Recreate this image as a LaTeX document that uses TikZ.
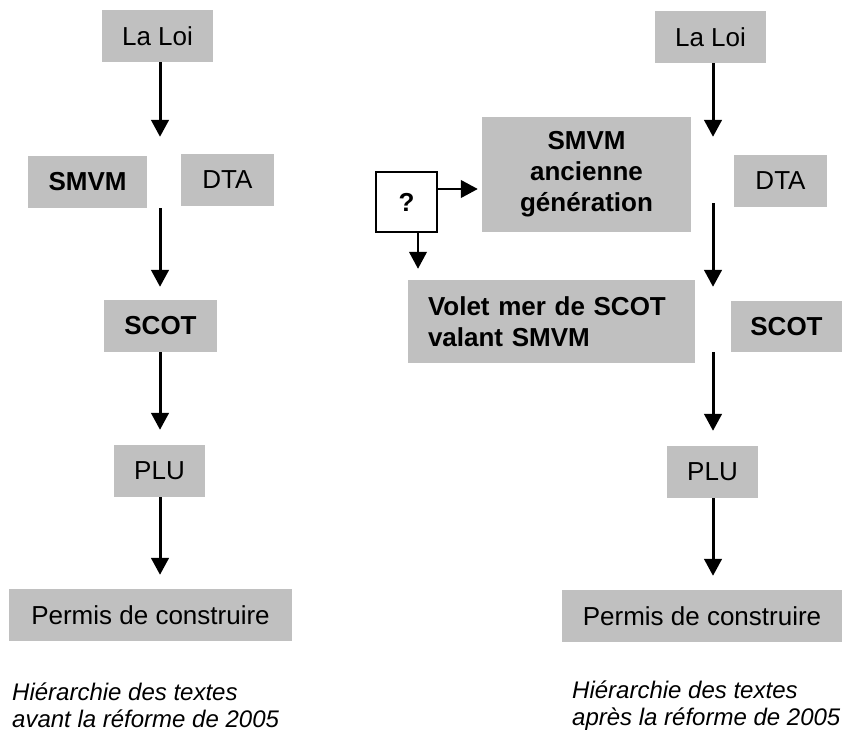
\documentclass[tikz,border=0pt]{standalone}
\usepackage{fontspec}
\setmainfont{Liberation Sans}
\usetikzlibrary{arrows.meta}
\definecolor{boxgray}{HTML}{C0C0C0}
\begin{document}
\begin{tikzpicture}[x=1pt,y=-1pt,
  box/.style={fill=boxgray, draw=none, inner sep=0pt, align=center,
    font=\fontsize{26}{31}\selectfont, minimum height=52pt},
  bbox/.style={box, font=\fontsize{26}{31}\selectfont\bfseries},
  qbox/.style={fill=white, draw=black, line width=2pt, inner sep=0pt,
    minimum width=61pt, minimum height=60pt, font=\fontsize{26}{31}\selectfont\bfseries},
  arr/.style={line width=3pt, -{Triangle[length=17pt,width=17.5pt]}},
  sarr/.style={line width=2.6pt, -{Triangle[length=17pt,width=17.5pt]}},
  caption/.style={anchor=base west, inner sep=0pt, align=left,
    font=\fontsize{24}{27}\selectfont\itshape}]
\useasboundingbox (0,0) rectangle (842,733);
% ---------- left column ----------
\coordinate (spL) at (160,0);
\node[box, minimum width=111pt] (loiL) at (157.5,36) {La Loi};
\node[bbox, minimum width=119pt] (smvmL) at (87.5,182) {SMVM};
\node[box, minimum width=93pt] (dtaL) at (227.5,180) {DTA};
\node[bbox, minimum width=113pt] (scotL) at (160.5,326) {SCOT};
\node[box, minimum width=91pt] (pluL) at (159.5,471) {PLU};
\node[box, minimum width=283pt] (permisL) at (150.5,615) {Permis de construire};
\draw[arr, shorten >=19pt] (spL |- loiL.south) -- (spL |- smvmL.north);
\draw[arr, shorten >=13pt] (spL |- smvmL.south) -- (spL |- scotL.north);
\draw[arr, shorten >=15pt] (spL |- scotL.south) -- (spL |- pluL.north);
\draw[arr, shorten >=14pt] (spL |- pluL.south) -- (spL |- permisL.north);
\node[caption] (capL) at (12,727) {Hiérarchie des textes\\avant la réforme de 2005};
% ---------- right column ----------
\coordinate (spR) at (713,0);
\node[box, minimum width=111pt] (loiR) at (710.5,37) {La Loi};
\node[bbox, minimum width=209pt, minimum height=115pt] (smvmR) at (586.5,174.5) {SMVM\\ancienne\\génération};
\node[box, minimum width=93pt] (dtaR) at (780.5,181) {DTA};
\node[qbox] (q) at (406.5,202) {?};
\node[bbox, minimum width=287pt, minimum height=83pt, align=left, text width=247pt] (volet) at (551.5,321.5) {Volet mer de SCOT\\valant SMVM};
\node[bbox, minimum width=111pt, minimum height=51pt] (scotR) at (786.5,326.5) {SCOT};
\node[box, minimum width=91pt] (pluR) at (712.5,472) {PLU};
\node[box, minimum width=280pt] (permisR) at (702,616) {Permis de construire};
\draw[arr, shorten >=18pt] (spR |- loiR.south) -- (spR |- dtaR.north);
\draw[arr, shorten >=14pt] ([yshift=4pt]spR |- dtaR.south) -- (spR |- scotR.north);
\draw[arr, shorten >=15pt] (spR |- scotR.south) -- (spR |- pluR.north);
\draw[arr, shorten >=14pt] (spR |- pluR.south) -- (spR |- permisR.north);
\coordinate (qr) at (437,189);
\coordinate (qd) at (418,232);
\draw[sarr, shorten >=4pt] (qr) -- (qr -| smvmR.west);
\draw[sarr, shorten >=11pt] (qd) -- (qd |- volet.north);
\node[caption] (capR) at (572,725) {Hiérarchie des textes\\après la réforme de 2005};
\end{tikzpicture}
\end{document}
